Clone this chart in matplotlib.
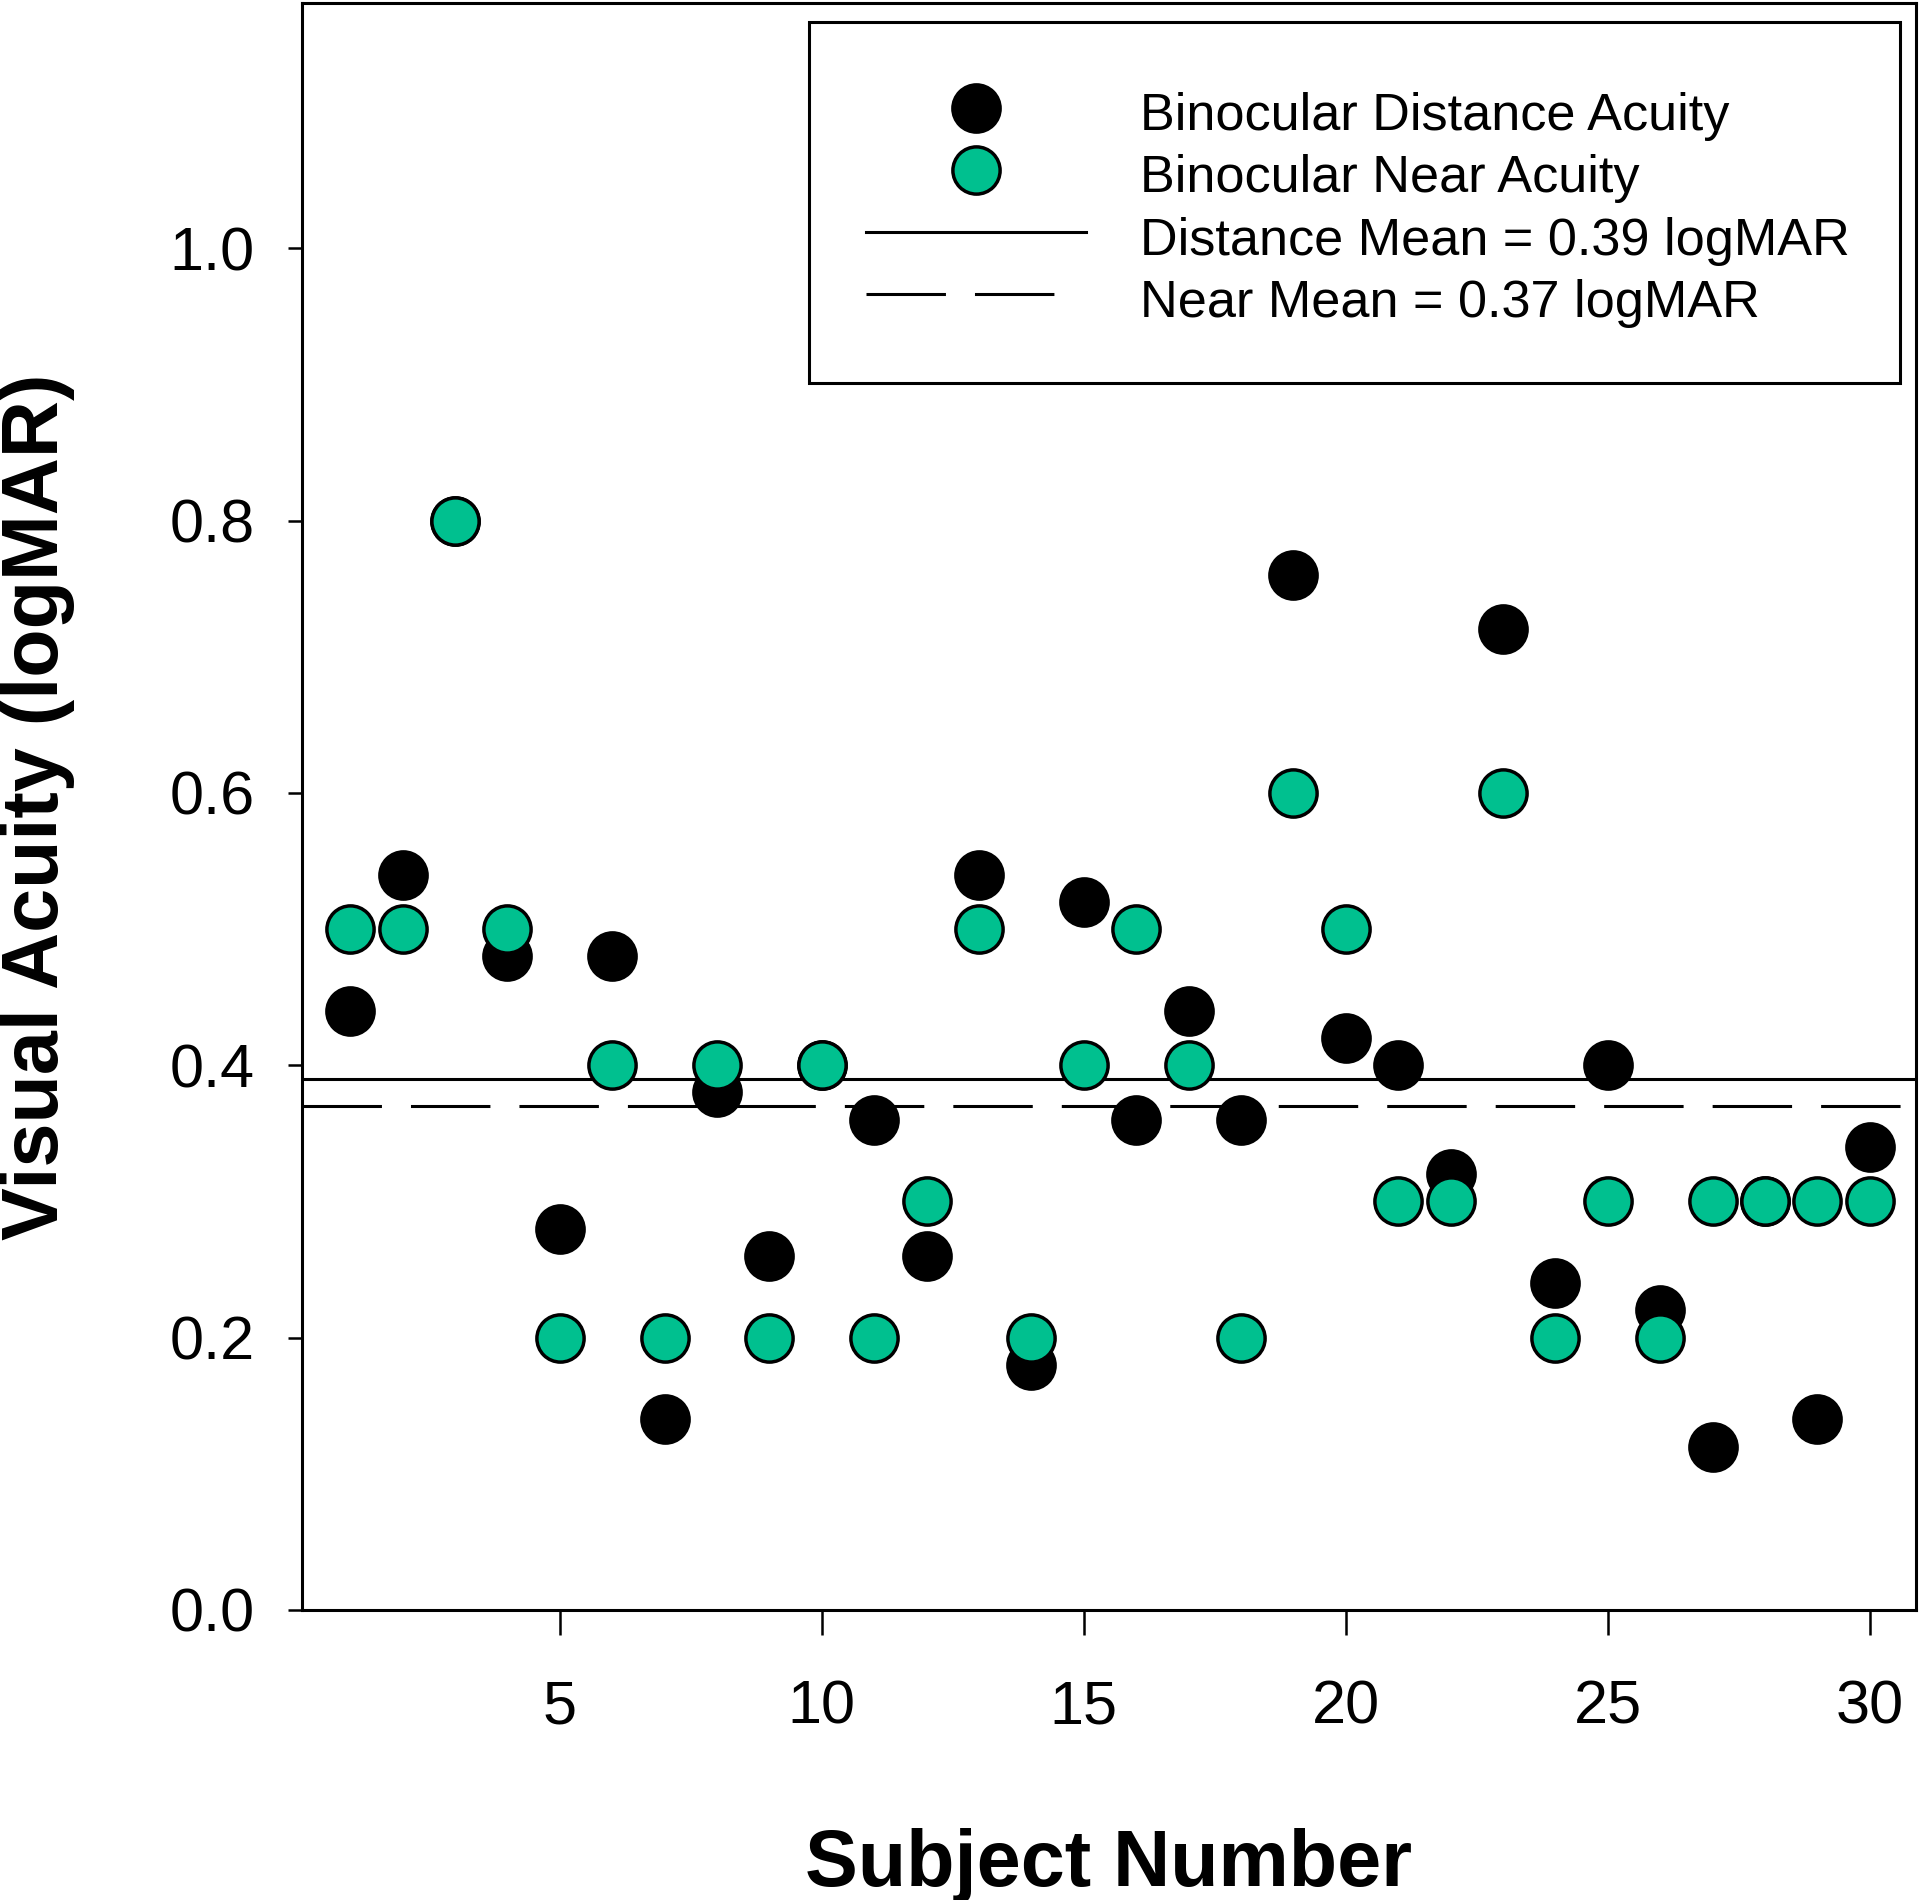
import numpy as np
import matplotlib
matplotlib.use("Agg")
import matplotlib.pyplot as plt
from matplotlib.lines import Line2D
from matplotlib.patches import Rectangle

plt.rcParams['font.family'] = ['Liberation Sans', 'DejaVu Sans']

# Data
subjects = np.arange(1, 31)
distance = [0.44, 0.54, 0.80, 0.48, 0.28, 0.48, 0.14, 0.38, 0.26, 0.40,
            0.36, 0.26, 0.54, 0.18, 0.52, 0.36, 0.44, 0.36, 0.76, 0.42,
            0.40, 0.32, 0.72, 0.24, 0.40, 0.22, 0.12, 0.30, 0.14, 0.34]
near = [0.5, 0.5, 0.8, 0.5, 0.2, 0.4, 0.2, 0.4, 0.2, 0.4,
        0.2, 0.3, 0.5, 0.2, 0.4, 0.5, 0.4, 0.2, 0.6, 0.5,
        0.3, 0.3, 0.6, 0.2, 0.3, 0.2, 0.3, 0.3, 0.3, 0.3]
distance_mean = 0.39
near_mean = 0.37

green = '#00C08F'
W, H = 1920, 1900

fig = plt.figure(figsize=(19.2, 19.0), dpi=100)
ax = fig.add_axes([302 / W, 290 / H, 1614 / W, 1607 / H])

# mean lines
ax.axhline(distance_mean, color='black', lw=2.2)
ax.axhline(near_mean, color='black', lw=2.2, dashes=(26, 9.5))

# points: distance underneath, near on top
ax.plot(subjects, distance, 'o', color='black', mec='black',
        ms=34, mew=2.5, clip_on=False)
ax.plot(subjects, near, 'o', color=green, mec='black',
        ms=34, mew=2.5, clip_on=False)

ax.set_xlim(0.08, 30.88)
ax.set_ylim(0, 1.18)
ax.set_xticks([5, 10, 15, 20, 25, 30])
ax.set_yticks([0.0, 0.2, 0.4, 0.6, 0.8, 1.0])
ax.set_yticklabels(['0.0', '0.2', '0.4', '0.6', '0.8', '1.0'])
ax.tick_params(axis='x', direction='out', length=18, width=1.8,
               labelsize=44, pad=32)
ax.tick_params(axis='y', direction='out', length=10, width=1.8,
               labelsize=44, pad=24)
for sp in ax.spines.values():
    sp.set_linewidth(2.2)

ax.set_xlabel('Subject Number', fontsize=57, fontweight='bold', labelpad=66)
ax.set_ylabel('Visual Acuity (logMAR)', fontsize=57, fontweight='bold',
              labelpad=68)

handles = [
    Line2D([], [], ls='none', marker='o', color='black', mec='black',
           ms=34, mew=2.5),
    Line2D([], [], ls='none', marker='o', color=green, mec='black',
           ms=34, mew=2.5),
    Line2D([], [], color='black', lw=2.2),
    Line2D([], [], color='black', lw=2.2, dashes=(26, 9.5, 26, 30)),
]
labels = ['Binocular Distance Acuity', 'Binocular Near Acuity',
          'Distance Mean = 0.39 logMAR', 'Near Mean = 0.37 logMAR']
fig.legend(handles, labels, loc='upper left',
           bbox_to_anchor=(809 / W, 1 - 28 / H),
           borderaxespad=0, fontsize=37.6, frameon=False,
           borderpad=1.1, labelspacing=0.125, handleheight=1.22,
           handlelength=4.2, handletextpad=1.03)
# legend box
fig.patches.append(Rectangle((809 / W, 1 - 383 / H), 1091 / W, 361 / H,
                             transform=fig.transFigure, fill=False,
                             edgecolor='black', lw=2.2))

fig.savefig('out.png', dpi=100)
